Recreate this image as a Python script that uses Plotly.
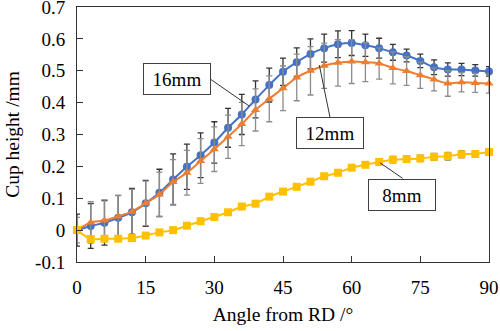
import plotly.graph_objects as go

angles = [0, 3, 6, 9, 12, 15, 18, 21, 24, 27, 30, 33, 36, 39, 42, 45,
          48, 51, 54, 57, 60, 63, 66, 69, 72, 75, 78, 81, 84, 87, 90]

h16 = [0, 0.013, 0.023, 0.039, 0.056, 0.084, 0.117, 0.159, 0.199, 0.235,
       0.275, 0.321, 0.363, 0.410, 0.455, 0.497, 0.527, 0.553, 0.571, 0.583,
       0.587, 0.580, 0.571, 0.558, 0.548, 0.531, 0.511, 0.504, 0.504, 0.501, 0.498]
e16 = [0.05, 0.07, 0.07, 0.07, 0.075, 0.072, 0.074, 0.08, 0.071, 0.07,
       0.065, 0.061, 0.063, 0.058, 0.053, 0.043, 0.045, 0.047, 0.044, 0.042,
       0.039, 0.035, 0.031, 0.025, 0.02, 0.021, 0.023, 0.021, 0.019, 0.018, 0.015]

h12 = [0, 0.024, 0.030, 0.043, 0.058, 0.084, 0.112, 0.151, 0.180, 0.217,
       0.254, 0.293, 0.333, 0.377, 0.412, 0.445, 0.479, 0.500, 0.516, 0.525,
       0.529, 0.527, 0.523, 0.509, 0.499, 0.486, 0.473, 0.460, 0.464, 0.462, 0.460]
e12 = [0.04, 0.065, 0.065, 0.065, 0.07, 0.07, 0.07, 0.07, 0.07, 0.07,
       0.07, 0.068, 0.068, 0.066, 0.072, 0.07, 0.073, 0.076, 0.071, 0.073,
       0.069, 0.061, 0.049, 0.05, 0.045, 0.041, 0.036, 0.04, 0.03, 0.03, 0.03]

h8 = [0, -0.028, -0.027, -0.027, -0.025, -0.017, -0.007, 0.000, 0.014, 0.028,
      0.041, 0.056, 0.074, 0.083, 0.105, 0.121, 0.136, 0.152, 0.169, 0.180,
      0.196, 0.205, 0.214, 0.221, 0.223, 0.225, 0.230, 0.232, 0.238, 0.239, 0.245]
e8 = [0, 0, 0, 0, 0, 0, 0, 0, 0, 0,
      0, 0, 0, 0, 0.004, 0.005, 0.005, 0.006, 0.006, 0.007,
      0.008, 0.008, 0.009, 0.01, 0.01, 0.01, 0.011, 0.012, 0.011, 0.01, 0.0]

x_ticks = [0, 15, 30, 45, 60, 75, 90]
y_ticks = [-0.1, 0, 0.1, 0.2, 0.3, 0.4, 0.5, 0.6, 0.7]
y_ticktext = ["-0.1", "0", "0.1", "0.2", "0.3", "0.4", "0.5", "0.6", "0.7"]

FONT = "Liberation Serif"

fig = go.Figure()

series = [
    ("16mm", h16, e16, "#4472C4", "circle", "#333333"),
    ("12mm", h12, e12, "#ED7D31", "triangle-up", "#8C8C8C"),
    ("8mm", h8, e8, "#FFC000", "square", "#808080"),
]
for name, ys, es, col, sym, ecol in series:
    fig.add_trace(go.Scatter(
        x=angles, y=ys, name=name, mode="lines+markers",
        line=dict(color=col, width=2, shape="spline", smoothing=0.7),
        marker=dict(color=col, symbol=sym, size=8),
        error_y=dict(type="data", array=es, visible=True, color=ecol,
                     thickness=1.3, width=3),
        cliponaxis=False,
    ))

# annotation boxes: (label, box centre, leader start, leader end)
labels = [
    ("16mm", (21.78, 0.473), (29.21, 0.473), (37.64, 0.389)),
    ("12mm", (55.2, 0.3035), (55.27, 0.3538), (52.93, 0.518)),
    ("8mm", (71.1, 0.1114), (71.15, 0.1623), (66.19, 0.2113)),
]
for text, c, p0, p1 in labels:
    fig.add_shape(type="line", xref="x", yref="y", x0=p0[0], y0=p0[1],
                  x1=p1[0], y1=p1[1], line=dict(color="#333333", width=1))
    fig.add_annotation(x=c[0], y=c[1], xref="x", yref="y", text=text,
                       showarrow=False, bgcolor="white",
                       bordercolor="#404040", borderwidth=1, borderpad=0,
                       width=66, height=30,
                       font=dict(family=FONT, size=19, color="black"))

fig.update_layout(
    width=500, height=331,
    margin=dict(l=77, r=11, t=7, b=69, autoexpand=False),
    paper_bgcolor="white", plot_bgcolor="white",
    showlegend=False,
    font=dict(family=FONT, size=19, color="black"),
)
fig.update_xaxes(
    range=[0, 90], tickvals=x_ticks, ticks="inside", ticklen=6,
    tickcolor="#333333", showline=True, linecolor="#333333", linewidth=1,
    mirror=True, showgrid=False, zeroline=False, automargin=False,
    ticklabelstandoff=8, ticklabeloverflow="allow",
    title=dict(text="Angle from RD /°", font=dict(family=FONT, size=19.5), standoff=10),
    tickfont=dict(family=FONT, size=19),
)
fig.update_yaxes(
    range=[-0.1, 0.7001], tickvals=y_ticks, ticktext=y_ticktext, ticks="inside",
    ticklen=6, tickcolor="#333333", showline=True, linecolor="#333333",
    linewidth=1, mirror=True, showgrid=False, zeroline=False, automargin=False,
    ticklabelstandoff=7, ticklabeloverflow="allow",
    title=dict(text="Cup height /mm", font=dict(family=FONT, size=19.5), standoff=10),
    tickfont=dict(family=FONT, size=19),
)

fig.write_html("out.html")
